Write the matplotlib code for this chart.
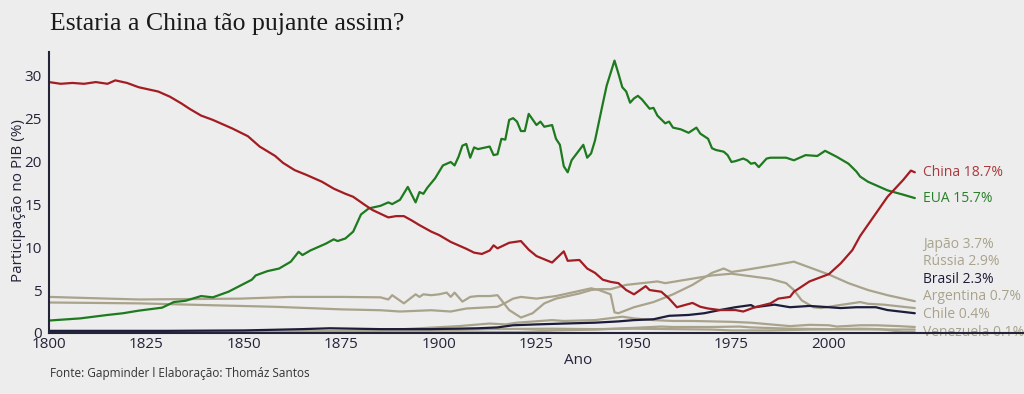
import matplotlib.pyplot as plt

# participação no PIB mundial (%)
china_anos = [1800, 1803, 1806, 1809, 1812, 1815, 1817, 1820, 1823, 1826, 1828, 1831, 1834, 1836,
              1839, 1842, 1847, 1851, 1854, 1858, 1860, 1863, 1866, 1870, 1873, 1876, 1878, 1881,
              1883, 1887, 1889, 1891, 1893, 1895, 1898, 1900, 1903, 1906, 1907, 1909, 1911, 1913,
              1914, 1915, 1918, 1921, 1923, 1925, 1929, 1932, 1933, 1936, 1938, 1940, 1942, 1944,
              1946, 1948, 1950, 1953, 1954, 1957, 1959, 1961, 1963, 1965, 1967, 1969, 1972, 1976,
              1978, 1981, 1985, 1987, 1990, 1991, 1995, 2000, 2003, 2006, 2008, 2012, 2015, 2019,
              2021, 2022]
china_vals = [29.2, 29.0, 29.1, 29.0, 29.2, 29.0, 29.4, 29.1, 28.6, 28.3, 28.1, 27.5, 26.7, 26.1,
              25.3, 24.8, 23.8, 22.9, 21.7, 20.6, 19.8, 18.95, 18.4, 17.6, 16.8, 16.2, 15.85, 14.9,
              14.3, 13.45, 13.6, 13.6, 13.1, 12.55, 11.8, 11.4, 10.6, 10.0, 9.8, 9.35, 9.2, 9.6,
              10.2, 9.85, 10.5, 10.7, 9.7, 8.95, 8.2, 9.5, 8.4, 8.5, 7.5, 7.0, 6.2, 5.95,
              5.8, 5.0, 4.5, 5.45, 5.0, 4.8, 4.0, 3.0, 3.25, 3.5, 3.05, 2.85, 2.67, 2.67,
              2.5, 3.0, 3.45, 4.0, 4.2, 4.8, 6.0, 6.86, 8.1, 9.65, 11.3, 13.9, 15.85, 17.8,
              18.9, 18.7]

eua_anos = [1800, 1808, 1815, 1819, 1823, 1829, 1832, 1835, 1839, 1842, 1846, 1849, 1852, 1853,
            1856, 1859, 1862, 1864, 1865, 1867, 1869, 1871, 1873, 1874, 1876, 1878, 1880, 1882,
            1885, 1887, 1888, 1890, 1892, 1894, 1895, 1896, 1897, 1899, 1901, 1903, 1904, 1905,
            1906, 1907, 1908, 1909, 1910, 1913, 1914, 1915, 1916, 1917, 1918, 1919, 1920, 1921,
            1922, 1923, 1925, 1926, 1927, 1929, 1930, 1931, 1932, 1933, 1934, 1936, 1937, 1938,
            1939, 1940, 1942, 1943, 1945, 1946, 1947, 1948, 1949, 1950, 1951, 1952, 1954, 1955,
            1956, 1958, 1959, 1960, 1962, 1964, 1966, 1967, 1969, 1970, 1971, 1973, 1974, 1975,
            1976, 1978, 1979, 1980, 1981, 1982, 1984, 1985, 1989, 1991, 1994, 1997, 1999, 2002,
            2005, 2007, 2008, 2010, 2012, 2015, 2019, 2022]
eua_vals = [1.45, 1.7, 2.1, 2.3, 2.6, 2.95, 3.6, 3.75, 4.3, 4.15, 4.8, 5.5, 6.2, 6.7,
            7.2, 7.5, 8.3, 9.45, 9.07, 9.6, 10.0, 10.4, 10.9, 10.7, 11.0, 11.8, 13.8, 14.5,
            14.8, 15.2, 15.0, 15.5, 17.0, 15.2, 16.4, 16.2, 16.9, 18.0, 19.5, 19.9, 19.5, 20.5,
            21.8, 22.0, 20.4, 21.6, 21.4, 21.7, 20.7, 20.8, 22.6, 22.5, 24.8, 25.0, 24.6, 23.5,
            23.5, 25.5, 24.2, 24.6, 24.0, 24.2, 22.6, 21.9, 19.4, 18.7, 20.1, 21.3, 21.9, 20.4,
            20.9, 22.4, 26.7, 28.8, 31.7, 30.2, 28.6, 28.1, 26.8, 27.3, 27.6, 27.2, 26.1, 26.2,
            25.3, 24.4, 24.6, 23.9, 23.7, 23.3, 23.9, 23.2, 22.6, 21.5, 21.3, 21.1, 20.7, 19.9,
            20.0, 20.3, 20.1, 19.7, 19.8, 19.3, 20.3, 20.4, 20.4, 20.1, 20.7, 20.6, 21.2, 20.5,
            19.7, 18.8, 18.2, 17.6, 17.2, 16.6, 16.1, 15.7]

japao_anos = [1800, 1823, 1840, 1858, 1875, 1885, 1890, 1898, 1903, 1907, 1915, 1917, 1919, 1921,
              1925, 1930, 1935, 1939, 1941, 1944, 1945, 1946, 1950, 1955, 1960, 1965, 1970, 1973,
              1975, 1978, 1982, 1986, 1991, 1994, 1997, 2000, 2005, 2010, 2015, 2022]
japao_vals = [3.55, 3.45, 3.25, 3.05, 2.75, 2.65, 2.5, 2.65, 2.5, 2.85, 3.05, 3.5, 4.0, 4.2,
              4.0, 4.3, 4.8, 5.2, 5.0, 4.5, 2.4, 2.3, 3.0, 3.6, 4.5, 5.6, 7.0, 7.5,
              7.1, 7.3, 7.6, 7.9, 8.3, 7.8, 7.3, 6.8, 5.8, 5.0, 4.4, 3.7]

russia_anos = [1800, 1823, 1849, 1862, 1875, 1885, 1887, 1888, 1891, 1894, 1895, 1896, 1898, 1900,
               1902, 1903, 1904, 1906, 1908, 1910, 1913, 1915, 1918, 1921, 1924, 1927, 1930, 1932,
               1936, 1939, 1941, 1944, 1948, 1952, 1956, 1958, 1962, 1966, 1970, 1975, 1980, 1985,
               1989, 1991, 1993, 1996, 1998, 2002, 2008, 2010, 2014, 2018, 2022]
russia_vals = [4.2, 3.9, 4.0, 4.2, 4.2, 4.15, 3.9, 4.4, 3.45, 4.5, 4.2, 4.5, 4.4, 4.5,
               4.7, 4.2, 4.7, 3.65, 4.2, 4.3, 4.3, 4.4, 2.67, 1.8, 2.3, 3.45, 4.0, 4.2,
               4.6, 5.0, 5.1, 5.1, 5.6, 5.8, 6.0, 5.8, 6.1, 6.4, 6.7, 6.9, 6.6, 6.3,
               5.8, 5.0, 3.8, 3.0, 2.9, 3.2, 3.6, 3.4, 3.3, 3.1, 2.9]

brasil_anos = [1800, 1830, 1850, 1865, 1872, 1885, 1898, 1910, 1915, 1919, 1925, 1932, 1940, 1946,
               1950, 1955, 1959, 1964, 1968, 1972, 1976, 1980, 1981, 1986, 1990, 1995, 2000, 2003,
               2007, 2012, 2015, 2022]
brasil_vals = [0.25, 0.25, 0.3, 0.45, 0.55, 0.45, 0.45, 0.55, 0.65, 0.9, 1.0, 1.1, 1.2, 1.35,
               1.5, 1.6, 2.0, 2.1, 2.3, 2.67, 3.0, 3.25, 3.0, 3.3, 3.0, 3.15, 3.0, 2.9,
               3.0, 3.0, 2.67, 2.3]

argentina_anos = [1800, 1850, 1870, 1885, 1895, 1905, 1913, 1917, 1920, 1929, 1932, 1940, 1947,
                  1950, 1955, 1960, 1965, 1970, 1975, 1980, 1985, 1990, 1995, 2000, 2002, 2008,
                  2012, 2018, 2022]
argentina_vals = [0.05, 0.1, 0.15, 0.3, 0.55, 0.8, 1.1, 1.0, 1.2, 1.5, 1.4, 1.5, 1.9,
                  1.7, 1.5, 1.4, 1.4, 1.35, 1.3, 1.2, 1.0, 0.8, 0.95, 0.9, 0.75, 0.9,
                  0.9, 0.8, 0.7]

chile_anos = [1800, 1850, 1880, 1900, 1913, 1929, 1940, 1950, 1960, 1970, 1975, 1985, 1995, 2000,
              2010, 2022]
chile_vals = [0.1, 0.15, 0.25, 0.3, 0.45, 0.5, 0.45, 0.5, 0.45, 0.4, 0.3, 0.3, 0.4, 0.42,
              0.42, 0.4]

venezuela_anos = [1800, 1850, 1900, 1920, 1930, 1940, 1950, 1957, 1960, 1970, 1977, 1980, 1990,
                  2000, 2008, 2013, 2016, 2019, 2022]
venezuela_vals = [0.05, 0.05, 0.07, 0.1, 0.3, 0.4, 0.6, 0.75, 0.7, 0.7, 0.75, 0.65, 0.5,
                  0.45, 0.5, 0.45, 0.3, 0.12, 0.1]

bg = "#ededed"
tan = "#a9a38c"
eixo = "#23243a"

# (nome, anos, valores, cor da linha, cor do rótulo) na ordem de desenho
series = [
    ("Venezuela", venezuela_anos, venezuela_vals, tan, tan),
    ("Chile", chile_anos, chile_vals, tan, tan),
    ("Argentina", argentina_anos, argentina_vals, tan, tan),
    ("Rússia", russia_anos, russia_vals, tan, tan),
    ("Japão", japao_anos, japao_vals, tan, tan),
    ("Brasil", brasil_anos, brasil_vals, "#1c1d3a", "#1c1d3a"),
    ("EUA", eua_anos, eua_vals, "#1e7a1e", "#2a7f2a"),
    ("China", china_anos, china_vals, "#a31c22", "#a83a3e"),
]

plt.rcParams["font.family"] = ["Open Sans", "DejaVu Sans"]

fig = plt.figure(figsize=(10.24, 3.94), dpi=100, facecolor=bg)
ax = fig.add_axes([49 / 1024, 61 / 394, 975 / 1024, 281 / 394])
ax.set_facecolor(bg)

for nome, anos, vals, cor, _ in series:
    ax.plot(anos, vals, color=cor, lw=1.6, solid_capstyle="round", zorder=3)

# rótulos: os pequenos são empilhados de baixo para cima com espaço mínimo
pequenos = sorted([s for s in series if s[0] not in ("China", "EUA")], key=lambda s: s[2][-1])
pos = {}
ultimo = None
for s in pequenos:
    y = s[2][-1]
    if ultimo is not None:
        y = max(y, ultimo + 2.05)
    pos[s[0]] = y
    ultimo = y
pos["China"] = china_vals[-1]
pos["EUA"] = eua_vals[-1]

for nome, anos, vals, cor, cor_txt in series:
    ax.annotate(f"{nome} {vals[-1]:.1f}%", xy=(anos[-1], pos[nome]), xytext=(6, 0),
                textcoords="offset points", va="center", ha="left", fontsize=10,
                color=cor_txt, zorder=2, annotation_clip=False)

ax.set_xlim(1800, 2050)
ax.set_ylim(0, 32.7)
ax.set_xticks(range(1800, 2001, 25))
ax.set_yticks(range(0, 31, 5))
ax.tick_params(length=0, labelsize=11, colors=eixo, pad=3)
ax.tick_params(axis="y", pad=5)
for lado in ("top", "right"):
    ax.spines[lado].set_visible(False)
for lado in ("left", "bottom"):
    ax.spines[lado].set_color(eixo)
    ax.spines[lado].set_linewidth(1.5)
    ax.spines[lado].set_zorder(4)

ax.set_xlabel("Ano", fontsize=11, color=eixo)
ax.xaxis.set_label_coords(0.543, -0.07)
ax.set_ylabel("Participação no PIB (%)", fontsize=11, color=eixo)
ax.yaxis.set_label_coords(-0.024, 0.47)

fig.text(50 / 1024, 1 - 30 / 394, "Estaria a China tão pujante assim?",
         family=["Liberation Serif", "DejaVu Serif"], fontsize=18.5, color="#1a1a1a",
         va="baseline")
fig.text(50 / 1024, 1 - 374 / 394, "Fonte: Gapminder l Elaboração: Thomáz Santos",
         fontsize=8.5, color="#333333", va="center")

fig.savefig("out.png", dpi=100, facecolor=bg)
